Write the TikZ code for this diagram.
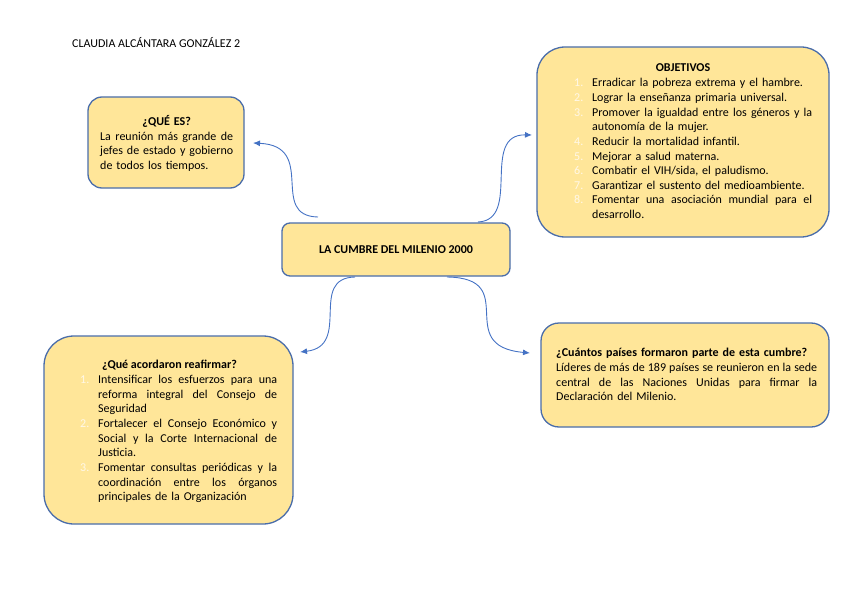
\documentclass[tikz,border=0pt]{standalone}
\usepackage{fontspec}
\setmainfont{Carlito}
\usetikzlibrary{arrows.meta}
\definecolor{boxfill}{HTML}{FFE699}
\definecolor{boxline}{HTML}{4A6DAA}
\definecolor{conn}{HTML}{4472C4}
\definecolor{numc}{HTML}{FFF8E8}
\newcommand{\litem}[2]{\noindent\hangindent=18pt\hangafter=1\makebox[18pt][l]{\textcolor{numc}{#1.}}#2\par}
\newcommand{\myfont}{\fontsize{12}{14.65}\selectfont\hyphenpenalty=10000 \exhyphenpenalty=10000 \tolerance=9999 }
\newcommand{\gap}{\hskip 2.7pt plus 1fil\relax}
\newcommand{\tgap}{\hskip 1.5pt plus 1fil\relax}
\tikzset{
  box/.style={draw=boxline, fill=boxfill, line width=1.3pt},
  txt/.style={inner sep=0pt, font=\myfont},
  conarrow/.style={draw=conn, line width=0.9pt, -{Latex[length=7pt,width=6pt]}}
}
\begin{document}
\begin{tikzpicture}[x=1pt,y=-1pt]
\useasboundingbox (0,0) rectangle (848,599);
% author
\node[txt, anchor=base west] (author) at (72,48) {CLAUDIA ALCÁNTARA GONZÁLEZ 2};
% boxes
\node[box, minimum width=156pt, minimum height=91pt, rounded corners=14pt] (que) at (166,142.5) {};
\node[box, minimum width=292pt, minimum height=190pt, rounded corners=28pt] (obj) at (683,142) {};
\node[box, minimum width=228pt, minimum height=53pt, rounded corners=8pt, font=\myfont\bfseries] (cen) at (396,249.5) {LA CUMBRE DEL MILENIO 2000};
\node[box, minimum width=249pt, minimum height=188pt, rounded corners=30pt] (acu) at (168.5,430) {};
\node[box, minimum width=288pt, minimum height=104pt, rounded corners=18pt] (cua) at (685,375) {};
% texts
\node[txt, anchor=base west, text width=133pt] (queT) at (100,125.5)
 {{\centering\textbf{¿QUÉ ES?}\par}
 La\gap reunión\gap más\gap grande\gap de\linebreak jefes\gap de\gap estado\gap y\gap gobierno\linebreak de todos los tiempos.};
\node[txt, anchor=base] (objH) at (683,71.8) {\textbf{OBJETIVOS}};
\node[txt, anchor=base west, text width=238pt] (objT) at (574,86.8)
 {\litem{1}{Erradicar la pobreza extrema y el hambre.}
  \litem{2}{Lograr la enseñanza primaria universal.}
  \litem{3}{Promover\gap la\gap igualdad\gap entre\gap los\gap géneros\gap y\gap la\linebreak autonomía de la mujer.}
  \litem{4}{Reducir la mortalidad infantil.}
  \litem{5}{Mejorar a salud materna.}
  \litem{6}{Combatir el VIH/sida, el paludismo.}
  \litem{7}{Garantizar el sustento del medioambiente.}
  \litem{8}{Fomentar\gap una\gap asociación\gap mundial\gap para\gap el\linebreak desarrollo.}};
\node[txt, anchor=base] (acuH) at (169.5,368.5) {\textbf{¿Qué acordaron reafirmar?}};
\node[txt, anchor=base west, text width=197pt] (acuT) at (80,383.5)
 {\litem{1}{Intensificar\gap los\gap esfuerzos\gap para\gap una\linebreak reforma\gap integral\gap del\gap Consejo\gap de\linebreak Seguridad}
  \litem{2}{Fortalecer\gap el\gap Consejo\gap Económico\gap y\linebreak Social\gap y\gap la\gap Corte\gap Internacional\gap de\linebreak Justicia.}
  \litem{3}{Fomentar\gap consultas\gap periódicas\gap y\gap la\linebreak coordinación\gap entre\gap los\gap órganos\linebreak principales de la Organización}};
\node[txt, anchor=base west, text width=261pt] (cuaT) at (556,356.8)
 {\textbf{¿Cuántos países formaron parte de esta cumbre?}\par
  Líderes\tgap de\tgap más\tgap de\tgap 189\tgap países\tgap se\tgap reunieron\tgap en\tgap la\tgap sede\linebreak
  central\gap de\gap las\gap Naciones\gap Unidas\gap para\gap firmar\gap la\linebreak
  Declaración del Milenio.};
% connectors
\coordinate (s1) at (318,217);
\coordinate (e1) at (253,143);
\coordinate (s2) at (478,222);
\coordinate (e2) at (532,135);
\coordinate (s3) at (355,277);
\coordinate (e3) at (300,352);
\coordinate (s4) at (447,277);
\coordinate (e4) at (530,353);
\draw[conarrow] (s1) .. controls (268,216) and (318,146) .. (e1);
\draw[conarrow] (s2) .. controls (522,220) and (480,134) .. (e2);
\draw[conarrow] (s3) .. controls (308,278) and (352,346) .. (e3);
\draw[conarrow] (s4) .. controls (522,278) and (452,346) .. (e4);
\end{tikzpicture}
\end{document}
